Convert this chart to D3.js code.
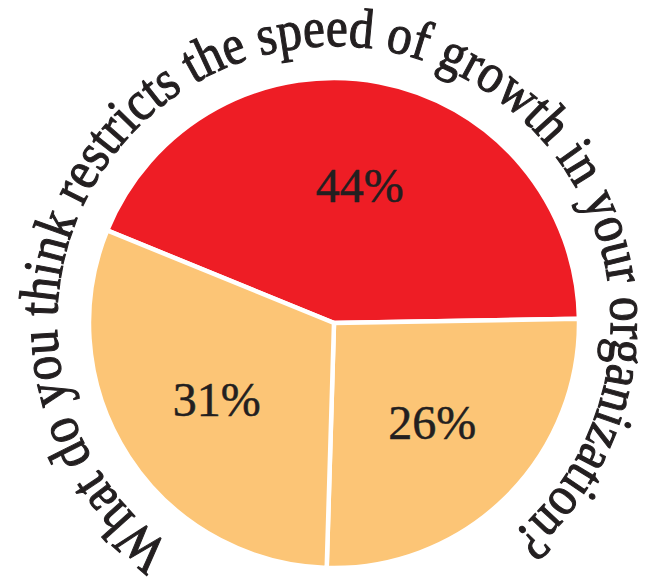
<!DOCTYPE html>
<html>
<head>
<meta charset="utf-8">
<script src="https://cdn.jsdelivr.net/npm/d3@7"></script>
<style>
  html, body { margin: 0; padding: 0; background: #ffffff; }
  svg { display: block; }
</style>
</head>
<body>
<div id="chart"></div>
<script>
// Survey answers, drawn clockwise starting from the upper-left boundary
const sliceLabels = ["44%", "26%", "31%"];
const sliceValues = [44, 26, 31];
const sliceColors = ["#ee1d25", "#fcc576", "#fcc576"];
const question = "What do you think restricts the speed of growth in your organization?";

const width = 653, height = 581;
const cx = 334, cy = 323;
const radius = 245;
const labelRadius = 140;
const textRadius = 277;
const deg = Math.PI / 180;

const svg = d3.select("#chart").append("svg")
  .attr("width", width)
  .attr("height", height);

const startAngle = -67.8 * deg;
const pie = d3.pie()
  .sort(null)
  .value(d => d.value)
  .startAngle(startAngle)
  .endAngle(startAngle + 2 * Math.PI);

const data = sliceValues.map((v, i) => ({ value: v, label: sliceLabels[i], color: sliceColors[i] }));
const arcs = pie(data);

const arc = d3.arc().innerRadius(0).outerRadius(radius);
const labelArc = d3.arc().innerRadius(labelRadius).outerRadius(labelRadius);

const g = svg.append("g").attr("transform", `translate(${cx},${cy})`);

g.selectAll("path.slice")
  .data(arcs)
  .join("path")
  .attr("class", "slice")
  .attr("d", arc)
  .attr("fill", d => d.data.color)
  .attr("stroke", "#ffffff")
  .attr("stroke-width", 4.5)
  .attr("stroke-linejoin", "miter");

g.selectAll("text.value")
  .data(arcs)
  .join("text")
  .attr("class", "value")
  .attr("transform", d => `translate(${labelArc.centroid(d)})`)
  .attr("text-anchor", "middle")
  .attr("dominant-baseline", "central")
  .attr("font-family", "'Liberation Serif', 'DejaVu Serif', serif")
  .attr("font-size", 48)
  .attr("fill", "#231f20")
  .attr("stroke", "#231f20")
  .attr("stroke-width", 0.5)
  .text(d => d.data.label);

// Question set on a circle around the pie, reading clockwise
const textStart = 216 * deg;   // angle measured from 12 o'clock, clockwise
const textSpan = 284 * deg;
const p = d3.path();
const a0 = textStart - Math.PI / 2;
p.moveTo(cx + textRadius * Math.cos(a0), cy + textRadius * Math.sin(a0));
p.arc(cx, cy, textRadius, a0, a0 + 330 * deg, false);

svg.append("defs").append("path")
  .attr("id", "questionPath")
  .attr("d", p.toString());

svg.append("text")
  .attr("font-family", "'Liberation Serif', 'DejaVu Serif', serif")
  .attr("font-size", 56)
  .attr("fill", "#231f20")
  .attr("stroke", "#231f20")
  .attr("stroke-width", 1.1)
  .append("textPath")
  .attr("href", "#questionPath")
  .attr("textLength", textRadius * textSpan)
  .attr("lengthAdjust", "spacingAndGlyphs")
  .text(question);
</script>
</body>
</html>
